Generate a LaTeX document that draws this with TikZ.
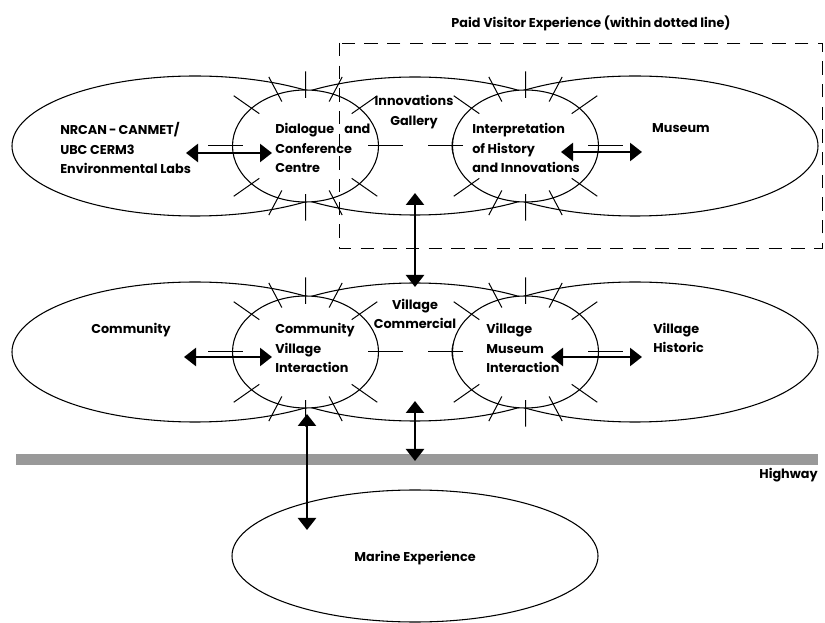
\documentclass[tikz,border=0pt]{standalone}
\usepackage{fontspec}
\setmainfont{Poppins}
\usetikzlibrary{positioning,arrows.meta,shapes.geometric,calc}
\definecolor{roadgray}{HTML}{999999}
\newcommand{\pxu}{0.75pt}

\begin{document}
\begin{tikzpicture}[x=0.75pt, y=-0.75pt,
  every node/.style={align=left, inner sep=0pt, font=\fontsize{9.6}{14.6}\selectfont\bfseries},
  zone/.style={draw, ellipse, line width=0.8pt, minimum width=366*\pxu, minimum height=140*\pxu},
  hub/.style={draw, ellipse, fill=white, line width=0.8pt, minimum width=146*\pxu, minimum height=112*\pxu},
  spike/.style={line width=0.75pt},
  link/.style={{Triangle[length=9pt,width=13.5pt]}-{Triangle[length=9pt,width=13.5pt]}, line width=1.8pt}]
\useasboundingbox (0,0) rectangle (825,623);

% top row: labs, gallery, museum
\node[zone] (labs) at (195,146) {};
\node[zone, minimum width=350*\pxu, minimum height=138*\pxu] (gallery) at (415,146) {};
\node[zone] (museum) at (635,146) {};
\node[hub] (dialogue) at (305.5,146) {};
\node[hub] (interp) at (525.5,146) {};

% bottom row: community, commercial, historic
\node[zone] (community) at (195,352) {};
\node[zone, minimum width=350*\pxu, minimum height=138*\pxu] (commercial) at (415,352) {};
\node[zone] (historic) at (635,352) {};
\node[hub] (comvil) at (305.5,352) {};
\node[hub] (vilmus) at (525.5,352) {};

\node[zone, minimum height=132*\pxu] (marine) at (415,556) {};
\node[fill=roadgray, minimum width=802*\pxu, minimum height=11*\pxu] (road) at (417,459.5) {};

% spikes round the meeting places
\foreach \h in {dialogue,interp,comvil,vilmus}
  \foreach \a in {0,35,62,90,118,145,180,215,242,270,298,325}
    \draw[spike] ($(\h.center)!0.85!(\h.\a)$) -- ($(\h.center)!1.32!(\h.\a)$);

% paid area
\draw[line width=0.7pt, dash pattern=on 10pt off 7pt] (339,43) rectangle (822,248);
\node (paidtxt) at (591,23) {Paid Visitor Experience (within dotted line)};

\node[anchor=west] (labstxt) at (60,148) {NRCAN\,-\,CANMET/\\UBC CERM3\\Environmental Labs};
\node[anchor=west] (dlgtxt) at (275,148) {Dialogue\hspace{0.8em}and\\Conference\\Centre};
\node[align=center] (galtxt) at (414,112) {Innovations\\Gallery};
\node[anchor=west] (inttxt) at (472,148) {Interpretation\\of History\\and Innovations};
\node (mustxt) at (681,128) {Museum};

\node (comtxt) at (131,330) {Community};
\node[anchor=west] (cvitxt) at (275,348) {Community\\Village\\Interaction};
\node[align=center] (vctxt) at (415,314) {Village\\Commercial};
\node[anchor=west] (vmitxt) at (486,348) {Village\\Museum\\Interaction};
\node[anchor=west] (vhtxt) at (653,338) {Village\\Historic};
\node (martxt) at (415,558) {Marine Experience};
\node[anchor=east] (hwytxt) at (818,475) {Highway};

% connections
\coordinate (labsend) at (186,153);
\coordinate (dlgend) at (272,153);
\coordinate (intend) at (561,152);
\coordinate (musend) at (642,152);
\coordinate (galend) at (415,193);
\coordinate (vcend) at (415,287);
\coordinate (comend) at (184,357);
\coordinate (cviend) at (272,357);
\coordinate (vmiend) at (551,357);
\coordinate (vhend) at (642,357);
\coordinate (vcbot) at (415,401);
\coordinate (roadend) at (415,461);
\coordinate (cvibot) at (307,414);
\coordinate (marend) at (307,530);
\draw[link] (labsend) -- (dlgend);
\draw[link] (intend) -- (musend);
\draw[link] (galend) -- (vcend);
\draw[link] (comend) -- (cviend);
\draw[link] (vmiend) -- (vhend);
\draw[link] (vcbot) -- (roadend);
\draw[link] (cvibot) -- (marend);
\end{tikzpicture}
\end{document}
